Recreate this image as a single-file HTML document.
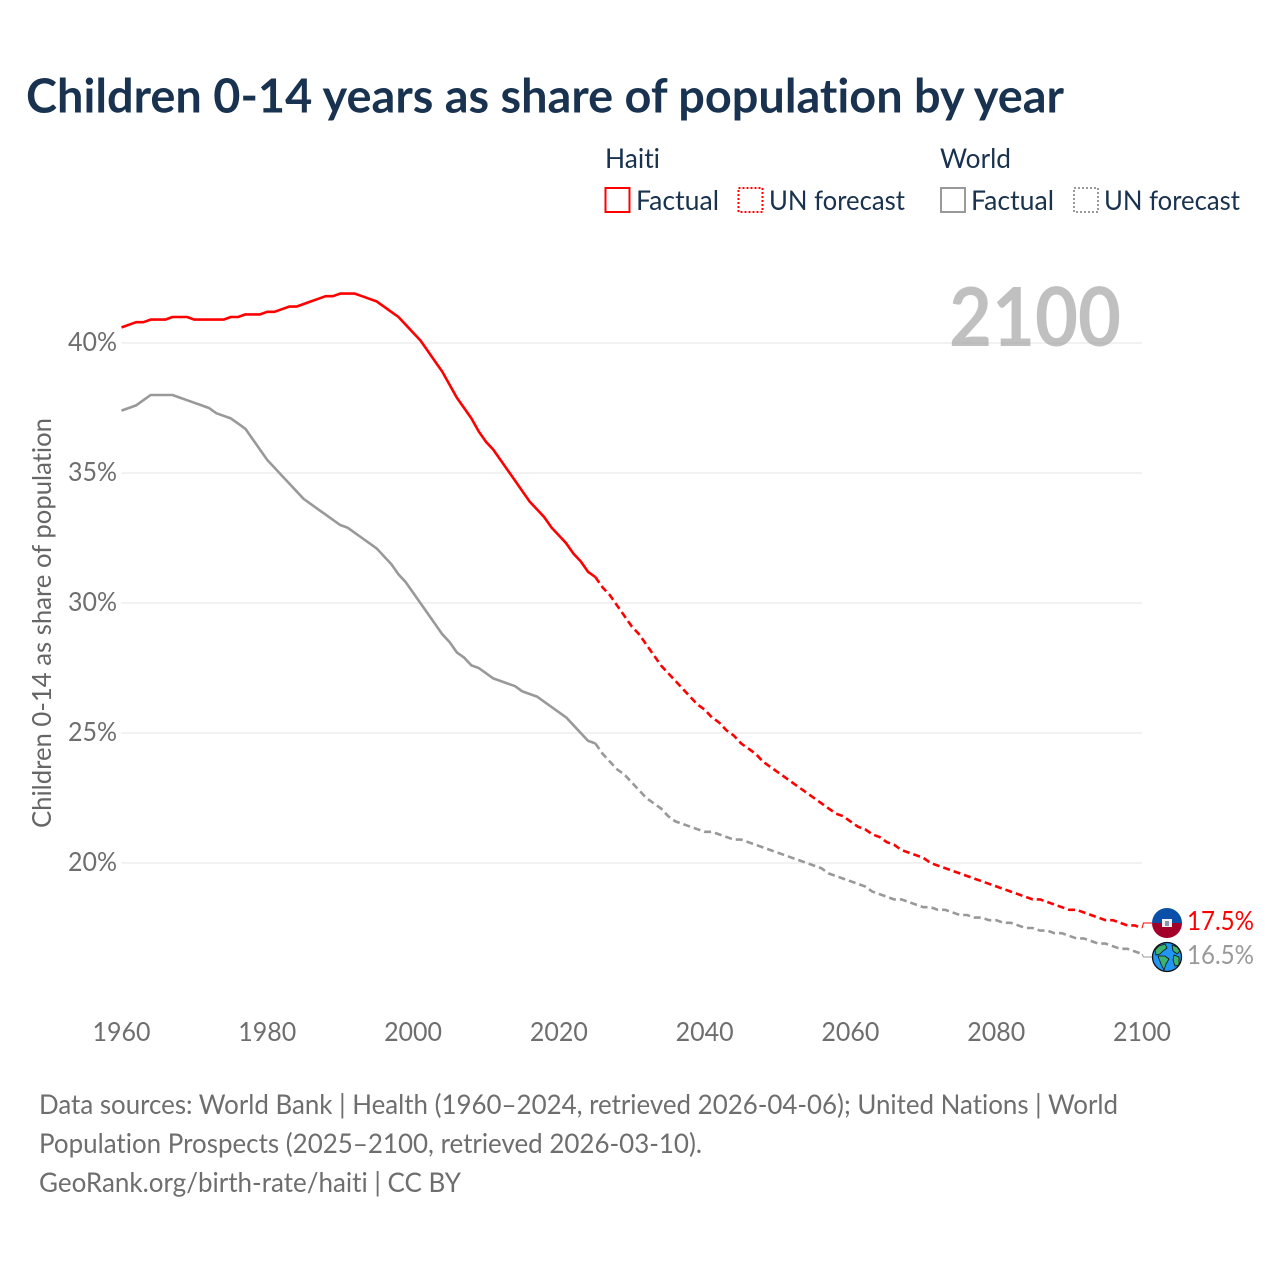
<!DOCTYPE html>
<html lang="en">
<head>
<meta charset="utf-8">
<title>Children 0-14 years as share of population by year</title>
<style>
html,body{margin:0;padding:0;background:#fff;width:1280px;height:1280px;overflow:hidden}
svg{display:block}
text{font-family:"Lato","Carlito","Liberation Sans",sans-serif;font-variant-ligatures:none;font-feature-settings:"liga" 0,"clig" 0}
</style>
</head>
<body>
<svg id="chart" xmlns="http://www.w3.org/2000/svg" width="1280" height="1280" viewBox="0 0 1280 1280">
<rect x="0" y="0" width="1280" height="1280" fill="#fff"/>
<text x="26" y="112.5" font-size="47" font-weight="700" fill="#18324f" textLength="1038" lengthAdjust="spacingAndGlyphs">Children 0-14 years as share of population by year</text>
<g font-size="27" fill="#18324f">
<text x="605" y="168" textLength="55" lengthAdjust="spacingAndGlyphs">Haiti</text>
<text x="940" y="168" textLength="71" lengthAdjust="spacingAndGlyphs">World</text>
<rect x="605.5" y="188" width="24" height="24" fill="none" stroke="#ff0000" stroke-width="2"/>
<text x="636" y="210" textLength="83" lengthAdjust="spacingAndGlyphs">Factual</text>
<rect x="738.5" y="188" width="24" height="24" fill="none" stroke="#ff0000" stroke-width="2" stroke-dasharray="2 2"/>
<text x="769" y="210" textLength="136" lengthAdjust="spacingAndGlyphs">UN forecast</text>
<rect x="941" y="188" width="24" height="24" fill="none" stroke="#999999" stroke-width="2"/>
<text x="971" y="210" textLength="83" lengthAdjust="spacingAndGlyphs">Factual</text>
<rect x="1074" y="188" width="24" height="24" fill="none" stroke="#999999" stroke-width="2" stroke-dasharray="2 2"/>
<text x="1104" y="210" textLength="136" lengthAdjust="spacingAndGlyphs">UN forecast</text>
</g>
<g id="grid"></g>
<text x="949" y="346" font-size="81" font-weight="700" fill="#a8a8a8" fill-opacity="0.72" textLength="172" lengthAdjust="spacingAndGlyphs">2100</text>
<g id="yticks"></g>
<g id="xticks"></g>
<text transform="translate(51,623) rotate(-90)" text-anchor="middle" font-size="26" fill="#666666" textLength="410" lengthAdjust="spacingAndGlyphs">Children 0-14 as share of population</text>
<g id="series"></g>
<g>
<clipPath id="flagclip"><circle cx="1167" cy="923" r="15"/></clipPath>
<g clip-path="url(#flagclip)">
<rect x="1150" y="906" width="34" height="17" fill="#0a4fa8"/>
<rect x="1150" y="923" width="34" height="17" fill="#a3002a"/>
<rect x="1162" y="919" width="10" height="8" fill="#f2f2f2"/>
<rect x="1165" y="921" width="4" height="5" fill="#8c97ad"/>
</g>
</g>
<g>
<circle cx="1167" cy="957" r="14.5" fill="#2196f3" stroke="#111" stroke-width="1.3"/>
<path d="M1155 950 L1159 946 L1165 944 L1167 948 L1163 951 L1160 954 L1156 955 Z" fill="#3cb371" stroke="#111" stroke-width="0.8"/>
<path d="M1158 956 L1165 956 L1169 959 L1166 964 L1164 970 L1161 964 Z" fill="#3cb371" stroke="#111" stroke-width="0.8"/>
<path d="M1172 945 L1177 947 L1180 951 L1177 954 L1173 951 Z" fill="#3cb371" stroke="#111" stroke-width="0.8"/>
<path d="M1174 955 L1179 957 L1179 965 L1175 966 L1173 960 Z" fill="#3cb371" stroke="#111" stroke-width="0.8"/>
</g>
<text x="1187" y="930" font-size="26" fill="#ff0000" textLength="67" lengthAdjust="spacingAndGlyphs">17.5%</text>
<text x="1187" y="964" font-size="26" fill="#999999" textLength="67" lengthAdjust="spacingAndGlyphs">16.5%</text>
<g font-size="27" fill="#6e6e6e">
<text x="39" y="1114" textLength="1079" lengthAdjust="spacingAndGlyphs">Data sources: World Bank | Health (1960–2024, retrieved 2026-04-06); United Nations | World</text>
<text x="39" y="1153" textLength="663" lengthAdjust="spacingAndGlyphs">Population Prospects (2025–2100, retrieved 2026-03-10).</text>
<text x="39" y="1192" textLength="422" lengthAdjust="spacingAndGlyphs">GeoRank.org/birth-rate/haiti | CC BY</text>
</g>
</svg>
<script>
const factualYears = [1960,1961,1962,1963,1964,1965,1966,1967,1968,1969,1970,1971,1972,1973,1974,1975,1976,1977,1978,1979,1980,1981,1982,1983,1984,1985,1986,1987,1988,1989,1990,1991,1992,1993,1994,1995,1996,1997,1998,1999,2000,2001,2002,2003,2004,2005,2006,2007,2008,2009,2010,2011,2012,2013,2014,2015,2016,2017,2018,2019,2020,2021,2022,2023,2024,2025];
const haitiFactual = [40.6,40.7,40.8,40.8,40.9,40.9,40.9,41.0,41.0,41.0,40.9,40.9,40.9,40.9,40.9,41.0,41.0,41.1,41.1,41.1,41.2,41.2,41.3,41.4,41.4,41.5,41.6,41.7,41.8,41.8,41.9,41.9,41.9,41.8,41.7,41.6,41.4,41.2,41.0,40.7,40.4,40.1,39.7,39.3,38.9,38.4,37.9,37.5,37.1,36.6,36.2,35.9,35.5,35.1,34.7,34.3,33.9,33.6,33.3,32.9,32.6,32.3,31.9,31.6,31.2,31.0];
const worldFactual = [37.4,37.5,37.6,37.8,38.0,38.0,38.0,38.0,37.9,37.8,37.7,37.6,37.5,37.3,37.2,37.1,36.9,36.7,36.3,35.9,35.5,35.2,34.9,34.6,34.3,34.0,33.8,33.6,33.4,33.2,33.0,32.9,32.7,32.5,32.3,32.1,31.8,31.5,31.1,30.8,30.4,30.0,29.6,29.2,28.8,28.5,28.1,27.9,27.6,27.5,27.3,27.1,27.0,26.9,26.8,26.6,26.5,26.4,26.2,26.0,25.8,25.6,25.3,25.0,24.7,24.6];
const forecastYears = [2025,2026,2027,2028,2029,2030,2031,2032,2033,2034,2035,2036,2037,2038,2039,2040,2041,2042,2043,2044,2045,2046,2047,2048,2049,2050,2051,2052,2053,2054,2055,2056,2057,2058,2059,2060,2061,2062,2063,2064,2065,2066,2067,2068,2069,2070,2071,2072,2073,2074,2075,2076,2077,2078,2079,2080,2081,2082,2083,2084,2085,2086,2087,2088,2089,2090,2091,2092,2093,2094,2095,2096,2097,2098,2099,2100];
const haitiForecast = [31.0,30.6,30.3,29.9,29.5,29.1,28.8,28.4,28.0,27.6,27.3,27.0,26.7,26.4,26.1,25.9,25.6,25.4,25.1,24.9,24.6,24.4,24.2,23.9,23.7,23.5,23.3,23.1,22.9,22.7,22.5,22.3,22.1,21.9,21.8,21.6,21.4,21.3,21.1,21.0,20.8,20.7,20.5,20.4,20.3,20.2,20.0,19.9,19.8,19.7,19.6,19.5,19.4,19.3,19.2,19.1,19.0,18.9,18.8,18.7,18.6,18.6,18.5,18.4,18.3,18.2,18.2,18.1,18.0,17.9,17.8,17.8,17.7,17.6,17.6,17.5];
const worldForecast = [24.6,24.2,23.9,23.6,23.4,23.1,22.8,22.5,22.3,22.1,21.8,21.6,21.5,21.4,21.3,21.2,21.2,21.1,21.0,20.9,20.9,20.8,20.7,20.6,20.5,20.4,20.3,20.2,20.1,20.0,19.9,19.8,19.6,19.5,19.4,19.3,19.2,19.1,18.9,18.8,18.7,18.6,18.6,18.5,18.4,18.3,18.3,18.2,18.2,18.1,18.0,18.0,17.9,17.9,17.8,17.8,17.7,17.7,17.6,17.5,17.5,17.4,17.4,17.3,17.3,17.2,17.1,17.1,17.0,16.9,16.9,16.8,16.7,16.7,16.6,16.5];
const yTickValues = [20,25,30,35,40];
const xTickValues = [1960,1980,2000,2020,2040,2060,2080,2100];

function xScale(year){ return 121.5 + (year - 1960) * (1142 - 121.5) / 140; }
function yScale(pct){ return 343 + (40 - pct) * 26; }
const SVGNS = 'http://www.w3.org/2000/svg';
function make(tag, parent, attrs){
  const el = document.createElementNS(SVGNS, tag);
  for (const k in attrs) el.setAttribute(k, attrs[k]);
  parent.appendChild(el);
  return el;
}
function pathFrom(years, values){
  return years.map((y, i) => (i ? 'L' : 'M') + xScale(y).toFixed(2) + ' ' + yScale(values[i]).toFixed(2)).join(' ');
}

const gridG = document.getElementById('grid');
const yG = document.getElementById('yticks');
yTickValues.forEach(v => {
  const line = make('line', gridG, {x1: 121.5, x2: 1142, y1: yScale(v), y2: yScale(v), stroke: '#eeeeee', 'stroke-width': 1.5});
  
  
  const t = make('text', yG, {x: 117, y: yScale(v) + 8, 'text-anchor': 'end', 'font-size': 26, fill: '#6e6e6e', textLength: 49, lengthAdjust: 'spacingAndGlyphs'});
  
  
  t.textContent = v + '%';
});
const xG = document.getElementById('xticks');
xTickValues.forEach(v => {
  const t = make('text', xG, {x: xScale(v), y: 1041, 'text-anchor': 'middle', 'font-size': 26, fill: '#6e6e6e', textLength: 58, lengthAdjust: 'spacingAndGlyphs'});
  
  
  t.textContent = v;
});

const seriesG = document.getElementById('series');
const worldFactualLine = make('path', seriesG, {d: pathFrom(factualYears, worldFactual), fill: 'none', stroke: '#999999', 'stroke-width': 2.6, 'stroke-linejoin': 'round'});


const worldForecastLine = make('path', seriesG, {d: pathFrom(forecastYears, worldForecast), fill: 'none', stroke: '#999999', 'stroke-width': 2.6, 'stroke-dasharray': '7 4'});


const haitiFactualLine = make('path', seriesG, {d: pathFrom(factualYears, haitiFactual), fill: 'none', stroke: '#ff0000', 'stroke-width': 2.6, 'stroke-linejoin': 'round'});


const haitiForecastLine = make('path', seriesG, {d: pathFrom(forecastYears, haitiForecast), fill: 'none', stroke: '#ff0000', 'stroke-width': 2.6, 'stroke-dasharray': '7 4'});



const lastHaiti = haitiForecast[haitiForecast.length - 1];
const lastWorld = worldForecast[worldForecast.length - 1];
const haitiConnector = make('path', seriesG, {d: 'M' + xScale(2100) + ' ' + yScale(lastHaiti) + ' L' + (xScale(2100) + 1.5) + ' 923 L1152 923', fill: 'none', stroke: '#ff0000', 'stroke-width': 1});


const worldConnector = make('path', seriesG, {d: 'M' + xScale(2100) + ' ' + yScale(lastWorld) + ' L' + (xScale(2100) + 1.5) + ' 957 L1152 957', fill: 'none', stroke: '#999999', 'stroke-width': 1});


</script>
</body>
</html>
